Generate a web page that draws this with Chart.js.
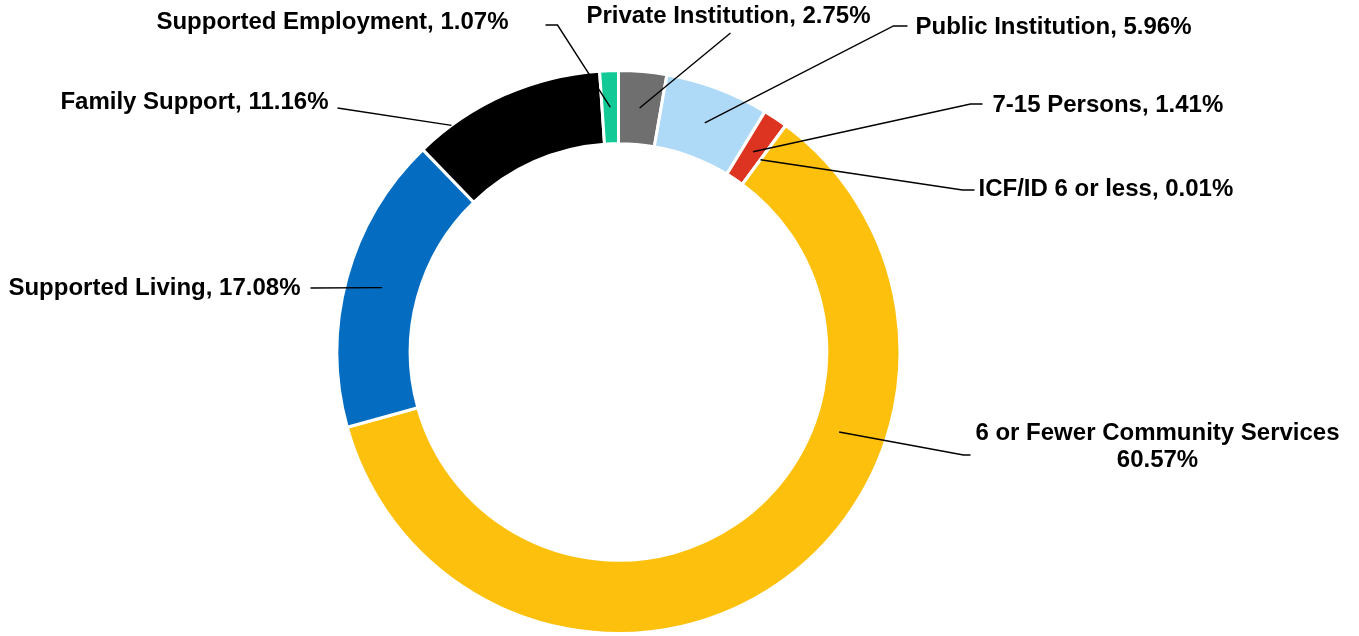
<!DOCTYPE html>
<html>
<head>
<meta charset="utf-8">
<script src="https://cdn.jsdelivr.net/npm/chart.js@4/dist/chart.umd.min.js"></script>
<style>
  html, body { margin: 0; padding: 0; background: #fff; }
  #wrap { width: 1359px; height: 636px; position: relative; }
</style>
</head>
<body>
<div id="wrap"><canvas id="chart"></canvas></div>
<script>
// data, clockwise from 12 o'clock
const categories = [
  "Private Institution", "Public Institution", "7-15 Persons", "ICF/ID 6 or less",
  "6 or Fewer Community Services", "Supported Living", "Family Support", "Supported Employment"
];
const shares = [2.75, 5.96, 1.41, 0.01, 60.57, 17.08, 11.16, 1.07];
const colors = ["#6f6f6f", "#afdaf7", "#dc3420", "#dc3420", "#fdc10d", "#056dc1", "#000000", "#13c995"];

// where each label sits, as offsets from the doughnut centre (px)
// anchor: t = fraction along the arc, r = fraction across the ring (0 inner, 1 outer)
const labelLayout = [
  { t: 0.5, r: 0.5, elbow: [112, -319], hEnd: null, text: [110, -336], align: "center" },
  { t: 0.5, r: 0.5, elbow: [275, -326], hEnd: 289, text: [297, -325], align: "left" },
  { t: 0.5, r: 0.45, elbow: [352, -248], hEnd: 364, text: [374, -247], align: "left" },
  { t: 0.5, r: 0.42, elbow: [344, -162], hEnd: 356, text: [360, -163], align: "left" },
  { t: 0.337, r: 0.36, elbow: [345, 103], hEnd: 352, text: [539, 81], align: "center", twoLines: true },
  { t: 0.5, r: 0.5, elbow: [-308, -64], hEnd: null, text: [-318, -64], align: "right" },
  { t: 0.19, r: 1.0, elbow: [-281, -244], hEnd: null, text: [-290, -250], align: "right" },
  { t: 0.5, r: 0.5, elbow: [-61, -327], hEnd: -73, text: [-110, -330], align: "right" }
];

const FONT = "bold 24px 'Liberation Sans', Arial, sans-serif";

/* ---------- leader lines + labels ---------- */
const leaderLabels = {
  id: "leaderLabels",
  afterDatasetsDraw(chart) {
    const ctx = chart.ctx;
    const arcs = chart.getDatasetMeta(0).data;
    ctx.save();
    ctx.font = FONT;
    ctx.fillStyle = "#000";
    ctx.strokeStyle = "#000";
    ctx.lineWidth = 1.4;
    ctx.textBaseline = "middle";
    arcs.forEach((arc, i) => {
      const L = labelLayout[i];
      const p = arc.getProps(["x", "y", "startAngle", "endAngle", "innerRadius", "outerRadius"], true);
      const a = p.startAngle + L.t * (p.endAngle - p.startAngle);
      const rad = p.innerRadius + L.r * (p.outerRadius - p.innerRadius);
      const ax = p.x + Math.cos(a) * rad;
      const ay = p.y + Math.sin(a) * rad;
      const ex = p.x + L.elbow[0], ey = p.y + L.elbow[1];
      ctx.beginPath();
      ctx.moveTo(ax, ay);
      ctx.lineTo(ex, ey);
      if (L.hEnd !== null) ctx.lineTo(p.x + L.hEnd, ey);
      ctx.stroke();

      ctx.textAlign = L.align;
      const tx = p.x + L.text[0], ty = p.y + L.text[1];
      const val = shares[i].toFixed(2) + "%";
      if (L.twoLines) {
        ctx.fillText(categories[i], tx, ty);
        ctx.fillText(val, tx, ty + 27);
      } else {
        ctx.fillText(categories[i] + ", " + val, tx, ty);
      }
    });
    ctx.restore();
  }
};

new Chart(document.getElementById("chart"), {
  type: "doughnut",
  data: {
    labels: categories,
    datasets: [{
      data: shares,
      backgroundColor: colors,
      borderColor: "#ffffff",
      borderWidth: 3
    }]
  },
  options: {
    responsive: true,
    maintainAspectRatio: false,
    animation: false,
    cutout: "74%",
    layout: { padding: { top: 69, bottom: 1, left: 0, right: 122 } },
    plugins: { legend: { display: false }, tooltip: { enabled: false } }
  },
  plugins: [leaderLabels]
});
</script>
</body>
</html>
